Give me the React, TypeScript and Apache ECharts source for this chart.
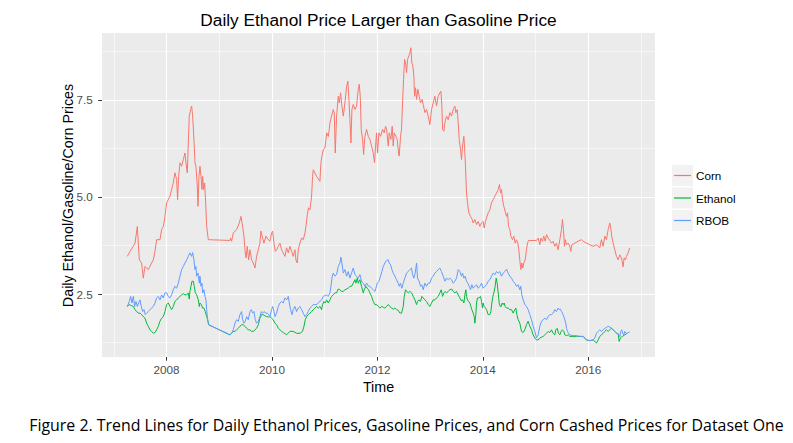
import React, { useEffect, useRef } from 'react';
import * as echarts from 'echarts';

// ---- data (decimal year, price) ----
const seriesNames = ['Corn', 'Ethanol', 'RBOB'];
const seriesColors = ['#F8766D', '#00BA38', '#619CFF'];

const corn: number[][] = [
  [2007.257,3.47],[2007.308,3.60],[2007.371,3.73],[2007.403,3.81],[2007.447,4.24],[2007.485,3.38],[2007.529,3.30],[2007.560,2.91],[2007.592,3.21],[2007.655,3.13],[2007.718,3.30],[2007.750,3.38],[2007.782,3.60],[2007.813,3.90],[2007.876,3.90],[2007.908,4.16],[2007.940,4.24],[2007.971,4.50],[2008.003,4.85],[2008.066,5.02],[2008.098,5.19],[2008.129,5.36],[2008.161,5.62],[2008.192,5.45],[2008.211,4.93],[2008.230,5.53],[2008.256,5.88],[2008.287,5.79],[2008.319,5.96],[2008.350,6.13],[2008.369,5.88],[2008.395,5.62],[2008.414,6.39],[2008.432,7.08],[2008.458,7.25],[2008.477,7.34],[2008.496,7.08],[2008.521,6.48],[2008.540,5.88],[2008.559,5.79],[2008.585,5.27],[2008.597,4.76],[2008.616,5.53],[2008.635,5.79],[2008.654,5.53],[2008.673,5.19],[2008.686,5.53],[2008.705,5.19],[2008.724,5.36],[2008.743,4.85],[2008.762,4.24],[2008.793,3.90],[2009.204,3.88],[2009.216,3.94],[2009.235,3.86],[2009.267,4.07],[2009.330,4.16],[2009.381,4.33],[2009.412,4.50],[2009.444,4.24],[2009.469,3.99],[2009.488,3.64],[2009.507,3.43],[2009.532,3.73],[2009.558,3.38],[2009.583,3.64],[2009.615,3.38],[2009.646,3.30],[2009.678,3.17],[2009.709,3.47],[2009.741,3.64],[2009.772,3.81],[2009.791,4.12],[2009.823,3.94],[2009.848,3.81],[2009.886,3.99],[2009.930,3.90],[2009.962,3.86],[2009.994,4.07],[2010.013,4.12],[2010.038,3.81],[2010.063,3.60],[2010.089,3.64],[2010.120,3.73],[2010.152,3.81],[2010.183,3.64],[2010.215,3.56],[2010.246,3.47],[2010.278,3.69],[2010.310,3.56],[2010.341,3.73],[2010.373,3.60],[2010.404,3.47],[2010.436,3.64],[2010.455,3.38],[2010.480,3.30],[2010.499,3.64],[2010.531,3.81],[2010.562,3.94],[2010.594,3.90],[2010.626,4.07],[2010.645,4.24],[2010.670,4.54],[2010.695,4.72],[2010.721,4.67],[2010.752,5.02],[2010.771,5.53],[2010.784,5.70],[2010.847,5.53],[2010.910,5.40],[2010.929,5.88],[2010.948,6.05],[2010.974,6.22],[2011.005,6.26],[2011.024,6.48],[2011.037,6.65],[2011.068,6.56],[2011.087,6.74],[2011.100,6.91],[2011.131,7.08],[2011.163,7.25],[2011.182,7.17],[2011.201,6.13],[2011.226,7.08],[2011.258,7.59],[2011.277,7.42],[2011.302,7.68],[2011.327,7.34],[2011.353,7.08],[2011.384,7.42],[2011.416,7.85],[2011.441,7.98],[2011.460,7.51],[2011.479,6.99],[2011.498,6.39],[2011.517,7.25],[2011.542,7.38],[2011.574,7.25],[2011.605,7.34],[2011.637,7.77],[2011.656,7.90],[2011.675,7.59],[2011.694,6.74],[2011.719,6.48],[2011.738,6.09],[2011.763,6.56],[2011.795,6.74],[2011.827,6.56],[2011.858,6.48],[2011.890,6.31],[2011.921,6.13],[2011.946,5.88],[2011.965,6.31],[2011.984,6.65],[2012.003,6.13],[2012.029,6.65],[2012.060,6.56],[2012.098,6.74],[2012.130,6.65],[2012.155,6.82],[2012.174,6.74],[2012.206,6.31],[2012.224,6.65],[2012.256,6.48],[2012.281,6.82],[2012.300,6.31],[2012.319,6.65],[2012.351,6.56],[2012.376,6.48],[2012.401,6.13],[2012.414,6.05],[2012.439,6.56],[2012.458,6.74],[2012.477,7.42],[2012.496,8.02],[2012.515,8.54],[2012.534,8.45],[2012.553,8.20],[2012.572,8.54],[2012.597,8.63],[2012.616,8.71],[2012.635,8.84],[2012.654,8.45],[2012.673,8.37],[2012.692,8.11],[2012.705,7.59],[2012.724,7.81],[2012.743,7.51],[2012.768,7.77],[2012.793,7.59],[2012.818,7.42],[2012.850,7.51],[2012.869,7.38],[2012.901,7.17],[2012.932,7.25],[2012.964,7.08],[2012.995,6.86],[2013.027,7.25],[2013.058,7.42],[2013.090,7.59],[2013.122,7.34],[2013.153,7.59],[2013.185,7.68],[2013.204,7.72],[2013.223,7.34],[2013.236,6.74],[2013.261,6.69],[2013.280,6.91],[2013.311,7.08],[2013.343,6.99],[2013.374,7.17],[2013.406,7.08],[2013.438,7.25],[2013.469,7.34],[2013.488,7.17],[2013.513,7.25],[2013.533,6.91],[2013.551,6.48],[2013.577,6.22],[2013.596,5.96],[2013.615,6.31],[2013.640,6.56],[2013.652,6.31],[2013.671,5.79],[2013.690,5.10],[2013.709,4.85],[2013.735,4.59],[2013.766,4.50],[2013.798,4.42],[2013.817,4.33],[2013.848,4.42],[2013.880,4.29],[2013.912,4.37],[2013.943,4.24],[2013.975,4.33],[2014.006,4.37],[2014.025,4.20],[2014.051,4.37],[2014.070,4.46],[2014.101,4.59],[2014.133,4.67],[2014.164,4.85],[2014.196,4.93],[2014.228,5.02],[2014.259,5.10],[2014.291,5.19],[2014.316,5.32],[2014.335,5.10],[2014.354,5.19],[2014.373,4.93],[2014.398,4.76],[2014.423,4.63],[2014.449,4.50],[2014.468,4.59],[2014.487,4.24],[2014.512,4.16],[2014.531,3.99],[2014.562,3.90],[2014.588,3.99],[2014.613,3.81],[2014.638,3.90],[2014.664,3.81],[2014.682,3.64],[2014.701,3.38],[2014.720,3.13],[2014.739,3.30],[2014.758,3.17],[2014.777,3.30],[2014.803,3.38],[2014.828,3.64],[2014.847,3.81],[2014.866,3.88],[2015.017,3.88],[2015.049,3.94],[2015.081,3.77],[2015.100,3.94],[2015.131,3.86],[2015.156,3.99],[2015.182,3.86],[2015.207,4.03],[2015.239,3.94],[2015.270,3.88],[2015.302,3.81],[2015.333,3.86],[2015.365,3.73],[2015.396,3.81],[2015.428,3.64],[2015.460,3.90],[2015.491,4.16],[2015.510,4.42],[2015.529,4.16],[2015.548,3.73],[2015.567,3.90],[2015.586,3.77],[2015.618,3.81],[2015.649,3.73],[2015.668,3.60],[2015.687,3.77],[2015.744,3.81],[2015.807,3.86],[2015.870,3.90],[2015.902,3.86],[2015.965,3.81],[2016.028,3.77],[2016.092,3.73],[2016.155,3.77],[2016.218,3.69],[2016.249,3.90],[2016.281,3.73],[2016.313,3.99],[2016.344,3.90],[2016.376,4.16],[2016.407,4.33],[2016.426,4.20],[2016.445,3.99],[2016.471,3.81],[2016.502,3.64],[2016.534,3.47],[2016.566,3.38],[2016.597,3.51],[2016.629,3.43],[2016.648,3.30],[2016.660,3.20],[2016.679,3.43],[2016.705,3.38],[2016.723,3.47],[2016.755,3.56],[2016.787,3.69]
];

const ethanol: number[][] = [
  [2007.257,2.18],[2007.295,2.23],[2007.340,2.20],[2007.371,2.18],[2007.403,2.10],[2007.434,2.05],[2007.466,2.01],[2007.497,2.01],[2007.529,1.97],[2007.560,1.92],[2007.592,1.88],[2007.624,1.75],[2007.655,1.67],[2007.687,1.58],[2007.718,1.54],[2007.750,1.49],[2007.782,1.51],[2007.813,1.58],[2007.845,1.67],[2007.876,1.80],[2007.908,1.88],[2007.940,1.92],[2007.971,2.05],[2008.003,2.23],[2008.034,2.27],[2008.066,2.18],[2008.098,2.10],[2008.129,2.18],[2008.161,2.31],[2008.192,2.35],[2008.224,2.40],[2008.256,2.44],[2008.287,2.48],[2008.319,2.51],[2008.350,2.48],[2008.382,2.48],[2008.414,2.53],[2008.432,2.37],[2008.445,2.57],[2008.464,2.70],[2008.483,2.83],[2008.508,2.83],[2008.527,2.70],[2008.547,2.53],[2008.572,2.48],[2008.604,2.35],[2008.623,2.18],[2008.635,2.27],[2008.660,2.23],[2008.686,2.14],[2008.711,2.14],[2008.736,2.05],[2008.762,1.92],[2008.781,1.84],[2008.800,1.71],[2009.204,1.45],[2009.235,1.49],[2009.267,1.54],[2009.299,1.54],[2009.330,1.58],[2009.362,1.62],[2009.393,1.67],[2009.425,1.71],[2009.456,1.71],[2009.488,1.67],[2009.520,1.62],[2009.551,1.58],[2009.583,1.58],[2009.615,1.54],[2009.646,1.54],[2009.678,1.58],[2009.709,1.62],[2009.741,1.71],[2009.772,1.88],[2009.804,1.97],[2009.835,1.97],[2009.867,1.94],[2009.899,1.92],[2009.930,1.91],[2009.962,1.92],[2009.994,1.88],[2010.025,1.84],[2010.057,1.75],[2010.089,1.71],[2010.120,1.62],[2010.152,1.58],[2010.183,1.54],[2010.215,1.51],[2010.278,1.45],[2010.341,1.54],[2010.404,1.54],[2010.468,1.49],[2010.531,1.49],[2010.581,1.54],[2010.607,1.67],[2010.632,1.84],[2010.657,1.92],[2010.689,1.97],[2010.721,2.01],[2010.752,2.05],[2010.784,2.10],[2010.815,2.14],[2010.847,2.18],[2010.878,2.14],[2010.910,2.18],[2010.941,2.10],[2010.960,2.23],[2010.986,2.31],[2011.011,2.27],[2011.037,2.35],[2011.068,2.27],[2011.100,2.35],[2011.131,2.44],[2011.163,2.48],[2011.194,2.53],[2011.226,2.53],[2011.258,2.63],[2011.289,2.61],[2011.321,2.57],[2011.353,2.57],[2011.384,2.61],[2011.416,2.63],[2011.447,2.65],[2011.479,2.70],[2011.510,2.70],[2011.542,2.78],[2011.574,2.87],[2011.592,2.78],[2011.618,2.91],[2011.637,2.78],[2011.668,2.87],[2011.700,2.70],[2011.732,2.53],[2011.751,2.61],[2011.782,2.70],[2011.808,2.65],[2011.833,2.61],[2011.858,2.53],[2011.890,2.44],[2011.921,2.31],[2011.952,2.23],[2011.984,2.23],[2012.016,2.18],[2012.047,2.14],[2012.079,2.18],[2012.111,2.16],[2012.142,2.14],[2012.174,2.18],[2012.206,2.23],[2012.237,2.18],[2012.269,2.14],[2012.300,2.11],[2012.332,2.14],[2012.363,2.10],[2012.395,2.08],[2012.427,2.01],[2012.458,2.01],[2012.490,2.18],[2012.509,2.44],[2012.534,2.61],[2012.553,2.57],[2012.585,2.53],[2012.616,2.57],[2012.648,2.53],[2012.679,2.44],[2012.711,2.35],[2012.743,2.23],[2012.761,2.31],[2012.787,2.35],[2012.818,2.31],[2012.843,2.44],[2012.869,2.40],[2012.901,2.35],[2012.932,2.31],[2012.964,2.23],[2012.995,2.18],[2013.027,2.27],[2013.058,2.35],[2013.090,2.35],[2013.122,2.40],[2013.153,2.44],[2013.185,2.53],[2013.210,2.61],[2013.236,2.44],[2013.261,2.53],[2013.286,2.57],[2013.311,2.53],[2013.343,2.57],[2013.374,2.61],[2013.406,2.63],[2013.438,2.57],[2013.469,2.53],[2013.501,2.57],[2013.533,2.48],[2013.564,2.40],[2013.590,2.33],[2013.615,2.35],[2013.640,2.27],[2013.665,2.53],[2013.678,2.61],[2013.690,2.44],[2013.709,2.35],[2013.728,2.31],[2013.754,2.27],[2013.773,2.18],[2013.791,2.10],[2013.817,2.01],[2013.836,1.92],[2013.848,1.75],[2013.867,1.97],[2013.880,2.27],[2013.899,2.40],[2013.924,2.40],[2013.956,2.44],[2013.975,2.31],[2013.994,2.14],[2014.006,2.27],[2014.025,2.18],[2014.051,2.14],[2014.070,2.10],[2014.101,1.97],[2014.133,1.97],[2014.152,2.05],[2014.171,2.27],[2014.190,2.44],[2014.209,2.53],[2014.234,2.70],[2014.253,2.91],[2014.272,2.78],[2014.291,2.53],[2014.310,2.27],[2014.329,2.18],[2014.348,2.18],[2014.367,2.27],[2014.386,2.23],[2014.405,2.27],[2014.423,2.18],[2014.449,2.14],[2014.480,2.14],[2014.512,2.10],[2014.543,2.10],[2014.575,2.01],[2014.607,2.10],[2014.626,2.14],[2014.645,1.97],[2014.670,1.84],[2014.701,1.75],[2014.733,1.54],[2014.765,1.51],[2014.796,1.58],[2014.828,1.71],[2014.859,1.80],[2014.891,1.67],[2014.923,1.58],[2014.954,1.45],[2014.986,1.37],[2015.017,1.32],[2015.049,1.32],[2015.081,1.37],[2015.112,1.39],[2015.144,1.41],[2015.175,1.45],[2015.207,1.49],[2015.239,1.54],[2015.270,1.51],[2015.302,1.58],[2015.333,1.49],[2015.365,1.45],[2015.384,1.58],[2015.409,1.62],[2015.434,1.49],[2015.460,1.45],[2015.485,1.54],[2015.510,1.58],[2015.535,1.54],[2015.554,1.45],[2015.586,1.43],[2015.618,1.45],[2015.649,1.41],[2015.712,1.41],[2015.776,1.41],[2015.839,1.41],[2015.902,1.41],[2015.965,1.32],[2016.028,1.30],[2016.092,1.32],[2016.155,1.24],[2016.187,1.32],[2016.218,1.41],[2016.249,1.45],[2016.281,1.49],[2016.313,1.54],[2016.344,1.58],[2016.376,1.54],[2016.407,1.58],[2016.439,1.62],[2016.471,1.58],[2016.502,1.54],[2016.534,1.49],[2016.566,1.48],[2016.585,1.28],[2016.610,1.37],[2016.648,1.41],[2016.692,1.45],[2016.736,1.49]
];

const rbob: number[][] = [
  [2007.257,2.18],[2007.295,2.31],[2007.320,2.44],[2007.346,2.27],[2007.371,2.44],[2007.396,2.18],[2007.421,2.31],[2007.447,2.18],[2007.472,2.27],[2007.497,2.35],[2007.523,2.18],[2007.548,2.05],[2007.573,2.10],[2007.598,1.97],[2007.624,2.01],[2007.655,2.05],[2007.687,2.10],[2007.718,2.14],[2007.750,2.18],[2007.782,2.27],[2007.813,2.40],[2007.845,2.44],[2007.876,2.35],[2007.908,2.48],[2007.940,2.40],[2007.971,2.53],[2008.003,2.53],[2008.034,2.44],[2008.066,2.40],[2008.098,2.48],[2008.129,2.61],[2008.161,2.70],[2008.192,2.65],[2008.224,2.78],[2008.256,2.96],[2008.287,3.13],[2008.319,3.21],[2008.350,3.30],[2008.382,3.38],[2008.414,3.47],[2008.445,3.56],[2008.477,3.47],[2008.496,3.57],[2008.521,3.38],[2008.540,3.13],[2008.559,3.21],[2008.572,2.96],[2008.597,3.04],[2008.623,2.78],[2008.635,2.96],[2008.654,2.70],[2008.673,2.78],[2008.686,2.53],[2008.711,2.61],[2008.730,2.44],[2008.749,2.35],[2008.762,2.10],[2008.781,1.84],[2008.800,1.71],[2009.204,1.45],[2009.235,1.49],[2009.267,1.58],[2009.299,1.75],[2009.330,1.84],[2009.362,1.80],[2009.393,1.97],[2009.425,2.05],[2009.444,1.84],[2009.469,1.75],[2009.494,1.80],[2009.520,1.92],[2009.551,1.84],[2009.583,2.05],[2009.608,2.10],[2009.634,2.01],[2009.659,2.05],[2009.684,1.84],[2009.709,1.75],[2009.741,1.80],[2009.772,1.92],[2009.798,2.05],[2009.823,2.01],[2009.848,2.05],[2009.886,2.01],[2009.911,2.01],[2009.937,1.97],[2009.962,1.92],[2009.994,2.10],[2010.013,2.18],[2010.038,2.05],[2010.057,1.92],[2010.089,2.01],[2010.120,2.18],[2010.152,2.27],[2010.183,2.31],[2010.215,2.27],[2010.246,2.40],[2010.278,2.35],[2010.310,2.44],[2010.329,2.27],[2010.354,2.10],[2010.379,1.97],[2010.404,2.10],[2010.436,2.18],[2010.468,2.05],[2010.499,2.14],[2010.531,2.18],[2010.562,2.10],[2010.594,2.01],[2010.626,1.92],[2010.657,1.97],[2010.689,2.05],[2010.721,2.14],[2010.752,2.18],[2010.784,2.23],[2010.847,2.23],[2010.878,2.27],[2010.910,2.31],[2010.941,2.35],[2010.974,2.44],[2011.037,2.48],[2011.068,2.44],[2011.100,2.53],[2011.119,2.70],[2011.144,2.96],[2011.163,3.04],[2011.194,2.96],[2011.226,3.00],[2011.258,3.21],[2011.289,3.30],[2011.308,3.45],[2011.327,3.30],[2011.353,3.04],[2011.384,3.13],[2011.416,2.96],[2011.447,3.08],[2011.479,2.91],[2011.510,3.04],[2011.542,3.17],[2011.574,3.00],[2011.605,2.96],[2011.637,2.91],[2011.668,3.00],[2011.700,2.83],[2011.732,2.78],[2011.763,2.70],[2011.795,2.78],[2011.827,2.71],[2011.858,2.70],[2011.890,2.65],[2011.921,2.61],[2011.953,2.57],[2011.972,2.65],[2011.997,2.78],[2012.029,2.83],[2012.060,2.96],[2012.085,3.08],[2012.111,3.21],[2012.142,3.30],[2012.174,3.37],[2012.206,3.38],[2012.224,3.30],[2012.250,3.25],[2012.275,3.13],[2012.300,3.04],[2012.332,2.96],[2012.363,2.87],[2012.395,2.78],[2012.414,2.70],[2012.439,2.78],[2012.464,2.65],[2012.490,2.78],[2012.521,2.91],[2012.553,3.04],[2012.585,3.08],[2012.616,3.13],[2012.648,3.17],[2012.667,3.00],[2012.692,2.91],[2012.717,3.04],[2012.743,3.30],[2012.761,2.91],[2012.793,2.83],[2012.818,2.70],[2012.843,2.74],[2012.869,2.61],[2012.901,2.78],[2012.932,2.70],[2012.964,2.78],[2012.995,2.78],[2013.027,2.91],[2013.058,2.96],[2013.090,3.04],[2013.122,3.08],[2013.153,3.13],[2013.185,3.17],[2013.216,3.08],[2013.248,2.96],[2013.280,2.83],[2013.311,2.91],[2013.343,2.87],[2013.374,2.91],[2013.406,2.87],[2013.438,2.78],[2013.469,2.83],[2013.501,2.91],[2013.533,3.13],[2013.564,3.08],[2013.596,2.96],[2013.615,3.04],[2013.640,2.91],[2013.665,2.96],[2013.690,2.83],[2013.716,2.78],[2013.741,2.70],[2013.766,2.61],[2013.791,2.74],[2013.817,2.65],[2013.848,2.70],[2013.880,2.74],[2013.912,2.65],[2013.943,2.70],[2013.975,2.78],[2014.006,2.65],[2014.038,2.70],[2014.070,2.74],[2014.101,2.83],[2014.133,2.87],[2014.164,2.96],[2014.196,3.04],[2014.228,3.00],[2014.259,3.08],[2014.291,3.04],[2014.322,3.08],[2014.354,2.96],[2014.386,3.04],[2014.417,3.08],[2014.449,3.14],[2014.480,3.04],[2014.512,2.96],[2014.543,2.91],[2014.575,2.83],[2014.607,2.78],[2014.638,2.70],[2014.670,2.74],[2014.701,2.61],[2014.720,2.70],[2014.739,2.48],[2014.765,2.35],[2014.796,2.23],[2014.828,2.18],[2014.859,2.10],[2014.891,1.97],[2014.923,1.84],[2014.954,1.67],[2014.986,1.54],[2015.017,1.37],[2015.049,1.45],[2015.081,1.67],[2015.112,1.80],[2015.144,1.84],[2015.175,1.88],[2015.207,1.84],[2015.239,1.92],[2015.270,1.97],[2015.302,1.97],[2015.333,2.01],[2015.365,2.10],[2015.396,2.05],[2015.428,2.14],[2015.447,2.10],[2015.472,2.11],[2015.491,2.05],[2015.510,2.01],[2015.535,1.92],[2015.554,1.84],[2015.573,1.75],[2015.586,1.62],[2015.605,1.54],[2015.624,1.49],[2015.649,1.45],[2015.712,1.43],[2015.776,1.43],[2015.839,1.41],[2015.902,1.41],[2015.965,1.32],[2016.028,1.30],[2016.092,1.32],[2016.123,1.37],[2016.155,1.49],[2016.187,1.54],[2016.218,1.58],[2016.249,1.54],[2016.281,1.58],[2016.313,1.62],[2016.344,1.64],[2016.376,1.67],[2016.407,1.65],[2016.439,1.62],[2016.471,1.58],[2016.502,1.54],[2016.534,1.49],[2016.566,1.48],[2016.597,1.40],[2016.616,1.54],[2016.635,1.58],[2016.654,1.49],[2016.673,1.45],[2016.692,1.54],[2016.723,1.48],[2016.755,1.51],[2016.787,1.52]
];

// ---- axes ----
const majorYears = [2008, 2010, 2012, 2014, 2016];
const minorYears = [2007, 2009, 2011, 2013, 2015, 2017];
const majorPrices = [2.5, 5.0, 7.5];
const minorPrices = [1.25, 3.75, 6.25, 8.75];
const xRange = [2006.777, 2017.265];
const yRange = [0.88, 9.22];

const titleText = 'Daily Ethanol Price Larger than Gasoline Price';
const xTitle = 'Time';
const yTitle = 'Daily Ethanol/Gasoline/Corn Prices';
const captionText =
  'Figure 2. Trend Lines for Daily Ethanol Prices, Gasoline Prices, and Corn Cashed Prices for Dataset One';

const FONT = 'Liberation Sans';
const CAP_FONT = 'Open Sans';

export default function App() {
  const ref = useRef<HTMLDivElement>(null);

  useEffect(() => {
    if (!ref.current) return;
    const chart = echarts.init(ref.current, null, { renderer: 'svg' });

    // scale caption horizontally to the width it has in the reference
    const capSize = 15.5;
    let capScale = 1;
    const ctx = document.createElement('canvas').getContext('2d');
    if (ctx) {
      ctx.font = `${capSize}px "${CAP_FONT}"`;
      const w = ctx.measureText(captionText).width;
      if (w > 0) capScale = 755 / w;
    }

    const gridL = 102, gridT = 33, gridW = 553, gridH = 324;

    const dataSets = [corn, ethanol, rbob];
    const series: any[] = seriesNames.map((name, i) => ({
      name,
      type: 'line',
      data: dataSets[i],
      xAxisIndex: 0,
      yAxisIndex: 0,
      showSymbol: false,
      symbol: 'none',
      smooth: false,
      lineStyle: { width: 1, color: seriesColors[i] },
      itemStyle: { color: seriesColors[i] },
      emphasis: { disabled: true },
      z: 3 + i,
    }));

    const legendKeyBoxes = seriesNames.map((_, i) => ({
      type: 'rect',
      shape: { x: 672, y: 165 + i * 22.5, width: 21, height: 21 },
      style: { fill: '#F2F2F2' },
      z: 1,
    }));

    chart.setOption({
      animation: false,
      backgroundColor: '#FFFFFF',
      grid: {
        left: gridL,
        top: gridT,
        width: gridW,
        height: gridH,
        show: true,
        backgroundColor: '#EBEBEB',
        borderWidth: 0,
        containLabel: false,
        outerBoundsMode: 'none',
      },
      xAxis: [
        {
          type: 'value',
          min: xRange[0],
          max: xRange[1],
          axisLine: { show: false },
          axisTick: {
            show: true,
            length: 3.7,
            customValues: majorYears,
            lineStyle: { color: '#333333', width: 1 },
          },
          axisLabel: {
            customValues: majorYears,
            margin: 6.5,
            color: '#4D4D4D',
            fontSize: 11.7,
            fontFamily: FONT,
            formatter: (v: number) => String(Math.round(v)),
          },
          splitLine: { show: true, lineStyle: { color: '#FFFFFF', width: 1.1 } },
        },
        {
          type: 'value',
          min: xRange[0],
          max: xRange[1],
          position: 'bottom',
          axisLine: { show: false },
          axisTick: { show: false, customValues: minorYears },
          axisLabel: { show: false, customValues: minorYears },
          splitLine: { show: true, lineStyle: { color: '#FFFFFF', width: 0.55 } },
        },
      ],
      yAxis: [
        {
          type: 'value',
          min: yRange[0],
          max: yRange[1],
          axisLine: { show: false },
          axisTick: {
            show: true,
            length: 3.7,
            customValues: majorPrices,
            lineStyle: { color: '#333333', width: 1 },
          },
          axisLabel: {
            customValues: majorPrices,
            margin: 9.3,
            color: '#4D4D4D',
            fontSize: 11.7,
            fontFamily: FONT,
            formatter: (v: number) => v.toFixed(1),
          },
          splitLine: { show: true, lineStyle: { color: '#FFFFFF', width: 1.1 } },
        },
        {
          type: 'value',
          min: yRange[0],
          max: yRange[1],
          position: 'left',
          axisLine: { show: false },
          axisTick: { show: false, customValues: minorPrices },
          axisLabel: { show: false, customValues: minorPrices },
          splitLine: { show: true, lineStyle: { color: '#FFFFFF', width: 0.55 } },
        },
      ],
      legend: {
        data: seriesNames,
        orient: 'vertical',
        left: 674,
        top: 165,
        padding: 0,
        itemGap: 1.5,
        itemWidth: 17,
        itemHeight: 1.2,
        icon: 'rect',
        selectedMode: false,
        z: 5,
        textStyle: {
          fontFamily: FONT,
          fontSize: 11.7,
          color: '#000000',
          lineHeight: 21,
          padding: 0,
        },
      },
      graphic: [
        ...legendKeyBoxes,
        {
          type: 'text',
          x: 378.5,
          y: 20,
          style: {
            text: titleText,
            fill: '#000000',
            fontSize: 17.3,
            fontFamily: FONT,
            textAlign: 'center',
            textVerticalAlign: 'middle',
          },
        },
        {
          type: 'text',
          x: 378.5,
          y: 386.5,
          style: {
            text: xTitle,
            fill: '#000000',
            fontSize: 14.3,
            fontFamily: FONT,
            textAlign: 'center',
            textVerticalAlign: 'middle',
          },
        },
        {
          type: 'text',
          x: 68,
          y: 195.5,
          rotation: Math.PI / 2,
          style: {
            text: yTitle,
            fill: '#000000',
            fontSize: 14.3,
            fontFamily: FONT,
            textAlign: 'center',
            textVerticalAlign: 'middle',
          },
        },
        {
          type: 'text',
          x: 406.5,
          y: 425,
          scaleX: capScale,
          style: {
            text: captionText,
            fill: '#000000',
            fontSize: capSize,
            fontFamily: CAP_FONT,
            textAlign: 'center',
            textVerticalAlign: 'middle',
          },
        },
      ],
      series,
    });

    return () => {
      chart.dispose();
    };
  }, []);

  return (
    <div
      ref={ref}
      style={{ position: 'fixed', left: 0, top: 0, width: 793, height: 443 }}
    />
  );
}
